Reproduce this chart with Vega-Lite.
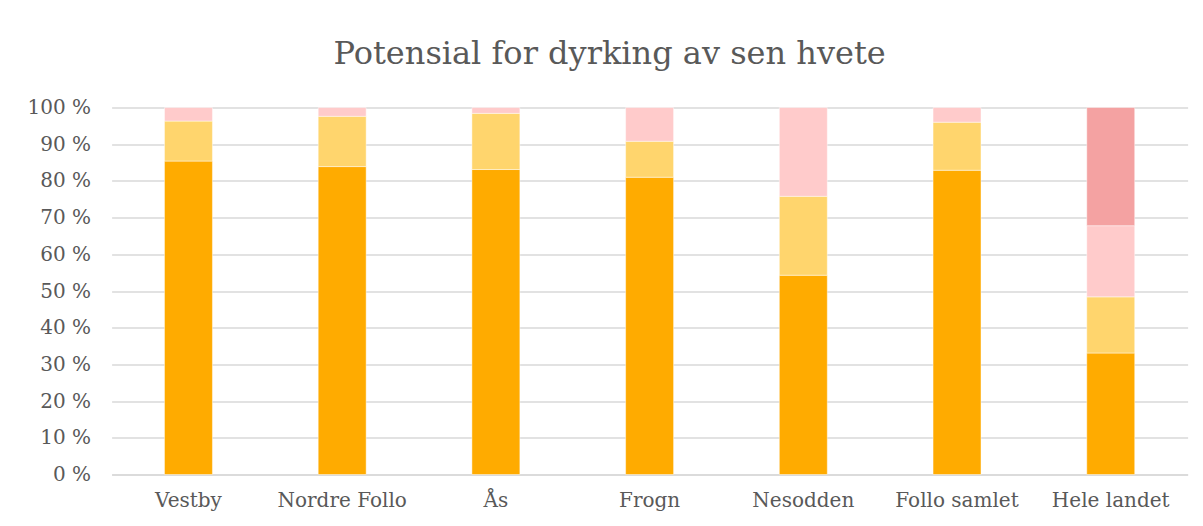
{
  "$schema": "https://vega.github.io/schema/vega-lite/v6.json",
  "width": 1076,
  "height": 367,
  "autosize": {"type": "none"},
  "padding": {"left": 111.6, "top": 107.5, "right": 15.4, "bottom": 51.5},
  "background": "white",
  "title": {
    "text": "Potensial for dyrking av sen hvete",
    "font": "DejaVu Serif",
    "fontSize": 32,
    "fontWeight": "normal",
    "color": "#595959",
    "anchor": "middle",
    "dx": -40,
    "offset": 27
  },
  "data": {
    "values": [
      {"kommune": "Vestby", "klasse": "A", "andel": 85.4},
      {"kommune": "Vestby", "klasse": "B", "andel": 10.9},
      {"kommune": "Vestby", "klasse": "C", "andel": 3.7},
      {"kommune": "Nordre Follo", "klasse": "A", "andel": 83.9},
      {"kommune": "Nordre Follo", "klasse": "B", "andel": 13.7},
      {"kommune": "Nordre Follo", "klasse": "C", "andel": 2.4},
      {"kommune": "Ås", "klasse": "A", "andel": 83.1},
      {"kommune": "Ås", "klasse": "B", "andel": 15.3},
      {"kommune": "Ås", "klasse": "C", "andel": 1.6},
      {"kommune": "Frogn", "klasse": "A", "andel": 81.0},
      {"kommune": "Frogn", "klasse": "B", "andel": 9.8},
      {"kommune": "Frogn", "klasse": "C", "andel": 9.2},
      {"kommune": "Nesodden", "klasse": "A", "andel": 54.3},
      {"kommune": "Nesodden", "klasse": "B", "andel": 21.5},
      {"kommune": "Nesodden", "klasse": "C", "andel": 24.2},
      {"kommune": "Follo samlet", "klasse": "A", "andel": 82.9},
      {"kommune": "Follo samlet", "klasse": "B", "andel": 13.1},
      {"kommune": "Follo samlet", "klasse": "C", "andel": 4.0},
      {"kommune": "Hele landet", "klasse": "A", "andel": 33.1},
      {"kommune": "Hele landet", "klasse": "B", "andel": 15.3},
      {"kommune": "Hele landet", "klasse": "C", "andel": 19.4},
      {"kommune": "Hele landet", "klasse": "D", "andel": 32.2}
    ]
  },
  "mark": {"type": "bar", "stroke": "white", "strokeWidth": 0.75, "strokeOpacity": 0.6},
  "encoding": {
    "x": {
      "field": "kommune",
      "type": "nominal",
      "sort": ["Vestby", "Nordre Follo", "Ås", "Frogn", "Nesodden", "Follo samlet", "Hele landet"],
      "scale": {"paddingInner": 0.688, "paddingOuter": 0.344},
      "axis": {
        "title": null,
        "labelAngle": 0,
        "labelFont": "DejaVu Serif",
        "labelFontSize": 20,
        "labelColor": "#595959",
        "labelPadding": 16,
        "ticks": false,
        "domainColor": "#D9D9D9",
        "domainWidth": 1.5,
        "grid": false
      }
    },
    "y": {
      "field": "andel",
      "type": "quantitative",
      "stack": "zero",
      "scale": {"domain": [0, 100], "nice": false},
      "axis": {
        "title": null,
        "values": [0, 10, 20, 30, 40, 50, 60, 70, 80, 90, 100],
        "labelExpr": "datum.value + ' %'",
        "labelFont": "DejaVu Serif",
        "labelFontSize": 20,
        "labelColor": "#595959",
        "labelPadding": 21,
        "ticks": false,
        "domain": false,
        "grid": true,
        "gridColor": "#D9D9D9",
        "gridWidth": 1.5
      }
    },
    "color": {
      "field": "klasse",
      "type": "nominal",
      "scale": {"domain": ["A", "B", "C", "D"], "range": ["#FFAB00", "#FFD56D", "#FFCBCB", "#F4A2A2"]},
      "legend": null
    },
    "order": {"field": "klasse", "type": "nominal", "sort": "ascending"}
  },
  "config": {"view": {"stroke": null}}
}
